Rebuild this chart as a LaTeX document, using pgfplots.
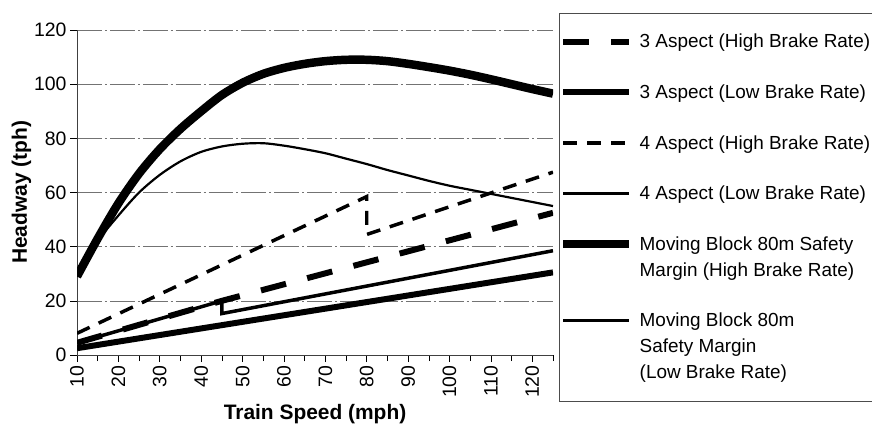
\documentclass[border=0pt]{standalone}
\usepackage{fontspec}
\setmainfont{Liberation Sans}
\usepackage{pgfplots}
\pgfplotsset{compat=1.18}
\pgfplotsset{
  legup/.style={legend image code/.code={\draw[##1] (0bp,#1) -- (66bp,#1);}},
}
\begin{document}
\begin{tikzpicture}
\begin{axis}[
  at={(77bp,70bp)}, anchor=south west,
  scale only axis, width=476bp, height=325bp,
  xmin=10, xmax=125, ymin=0, ymax=120,
  axis x line*=bottom, axis y line*=left,
  xtick={10,20,...,120}, minor xtick={15,25,...,125},
  ytick={0,20,...,120},
  tick align=outside,
  major tick length=7bp, minor tick length=6bp,
  every tick/.style={black, line width=0.6pt},
  axis line style={line width=0.6pt, black!75},
  ymajorgrids,
  major grid style={black!55, line width=0.5pt, dash pattern=on 25pt off 3pt on 2pt off 3pt},
  /pgf/number format/assume math mode=true,
  ticklabel style={font=\fontsize{19.5}{23}\selectfont},
  xticklabel style={rotate=90, anchor=east},
  xlabel={Train Speed (mph)}, ylabel={Headway (tph)},
  ylabel style={yshift=-4bp},
  label style={font=\bfseries\fontsize{21}{25}\selectfont},
  legend cell align=left,
  legup=0bp,
  legend style={at={(1.0126,1.0523)}, anchor=north west,
    draw=black!70, line width=0.5pt, inner xsep=0pt, inner ysep=19pt,
    row sep=31.5pt, font=\fontsize{19}{23}\selectfont,
    /tikz/every odd column/.style={column sep=4bp},
    cells={align=left}},
]
\addplot[black, line width=6pt, dash pattern=on 26pt off 22pt] coordinates {(10,4.5) (45,20) (125,52.5)};
\addlegendentry{3 Aspect (High Brake Rate)}
\addplot[black, line width=6pt] coordinates {(10,2.5) (125,30.5)};
\addlegendentry{3 Aspect (Low Brake Rate)}
\addplot[black, line width=3.5pt, dash pattern=on 14pt off 10pt] coordinates {(10,8) (80,58.5) (80,44.5) (125,67.5)};
\addlegendentry{4 Aspect (High Brake Rate)}
\addplot[black, line width=3.5pt] coordinates {(10,4.5) (45,20) (45,15.3) (125,38.5)};
\addlegendentry{4 Aspect (Low Brake Rate)}
\addplot[black, line width=8.5pt, smooth, legup=13bp] coordinates {(10,29) (15,43) (20,56) (25,67) (30,76) (35,83.5) (40,90) (45,96) (50,100.5) (55,103.8) (60,106) (65,107.5) (70,108.5) (75,109) (80,109) (85,108.5) (90,107.5) (95,106.3) (100,105) (105,103.5) (110,101.8) (115,100) (120,98.2) (125,96.5)};
\addlegendentry{Moving Block 80m Safety\\[3pt]Margin (High Brake Rate)}
\addplot[black, line width=2.2pt, smooth, legup=26bp] coordinates {(10,29) (15,42) (20,51.5) (25,60) (30,66.5) (35,71.5) (40,75) (45,77) (50,78) (55,78.2) (60,77.3) (65,76) (70,74.5) (75,72.5) (80,70.5) (85,68.3) (90,66.3) (95,64.3) (100,62.5) (105,61) (110,59.5) (115,58) (120,56.5) (125,55)};
\addlegendentry{Moving Block 80m\\[3pt]Safety Margin\\[3pt](Low Brake Rate)}
\end{axis}
\pgfresetboundingbox
\path[use as bounding box] (0,0) rectangle (872bp,425bp);
\end{tikzpicture}
\end{document}
